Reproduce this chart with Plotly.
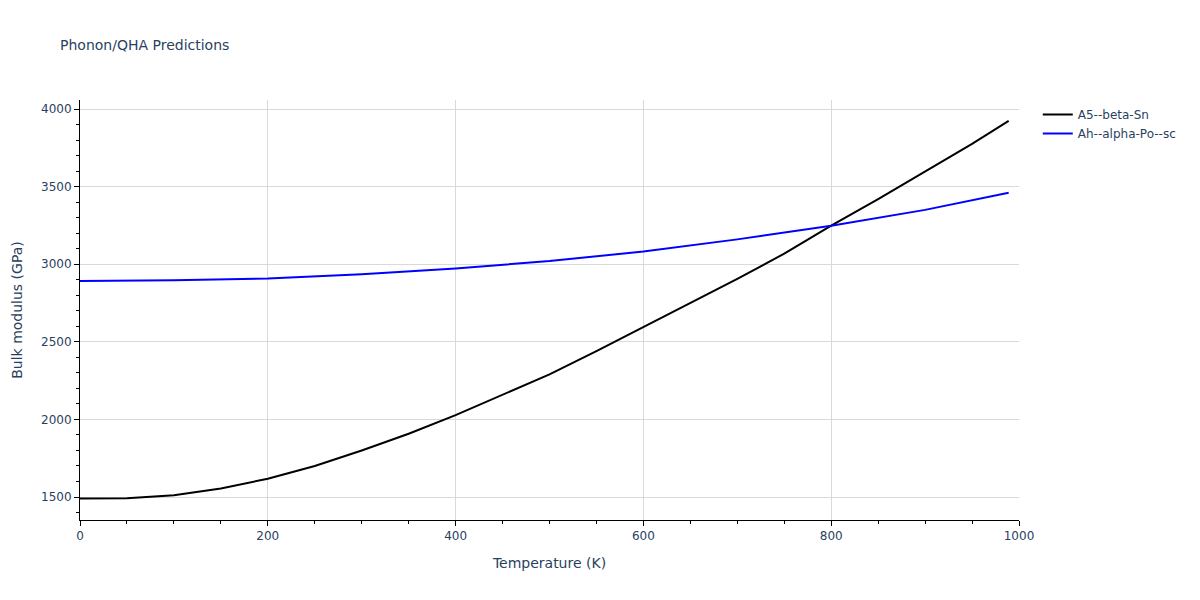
import plotly.graph_objects as go

temp_beta = [0, 50, 100, 150, 200, 250, 300, 350, 400, 450, 500, 550, 600, 650, 700, 750, 800, 850, 900, 950, 989]
bulk_beta = [1490, 1492, 1512, 1555, 1618, 1700, 1800, 1908, 2028, 2160, 2290, 2440, 2595, 2748, 2905, 3068, 3248, 3420, 3598, 3776, 3923]

temp_alpha = [0, 100, 200, 300, 400, 500, 600, 700, 800, 900, 989]
bulk_alpha = [2892, 2896, 2908, 2935, 2973, 3020, 3082, 3160, 3248, 3350, 3460]

fig = go.Figure()
fig.add_trace(go.Scatter(x=temp_beta, y=bulk_beta, mode="lines", name="A5--beta-Sn",
                         line=dict(color="black", width=2)))
fig.add_trace(go.Scatter(x=temp_alpha, y=bulk_alpha, mode="lines", name="Ah--alpha-Po--sc",
                         line=dict(color="blue", width=2)))

axis_common = dict(showline=True, linecolor="black", linewidth=1, ticks="outside",
                   tickcolor="black", ticklen=5, showgrid=True, gridcolor="#d9d9d9",
                   zeroline=False)
fig.update_layout(
    width=1200, height=600,
    template="plotly_white",
    font=dict(family="DejaVu Sans", size=12, color="#2a3f5f"),
    title=dict(text="Phonon/QHA Predictions", x=0.05, font=dict(size=14)),
    margin=dict(l=80, r=181, t=100, b=80),
    xaxis=dict(title=dict(text="Temperature (K)", font=dict(size=14)), range=[0, 1000], dtick=200,
               minor=dict(dtick=50, ticks="outside", ticklen=3, tickcolor="black", showgrid=False),
               **axis_common),
    yaxis=dict(title=dict(text="Bulk modulus (GPa)", font=dict(size=14)), range=[1352, 4058], dtick=500,
               minor=dict(dtick=100, ticks="outside", ticklen=3, tickcolor="black", showgrid=False),
               **axis_common),
    legend=dict(x=1.02, y=1, xanchor="left", yanchor="top"),
)
fig.write_html("out.html")
